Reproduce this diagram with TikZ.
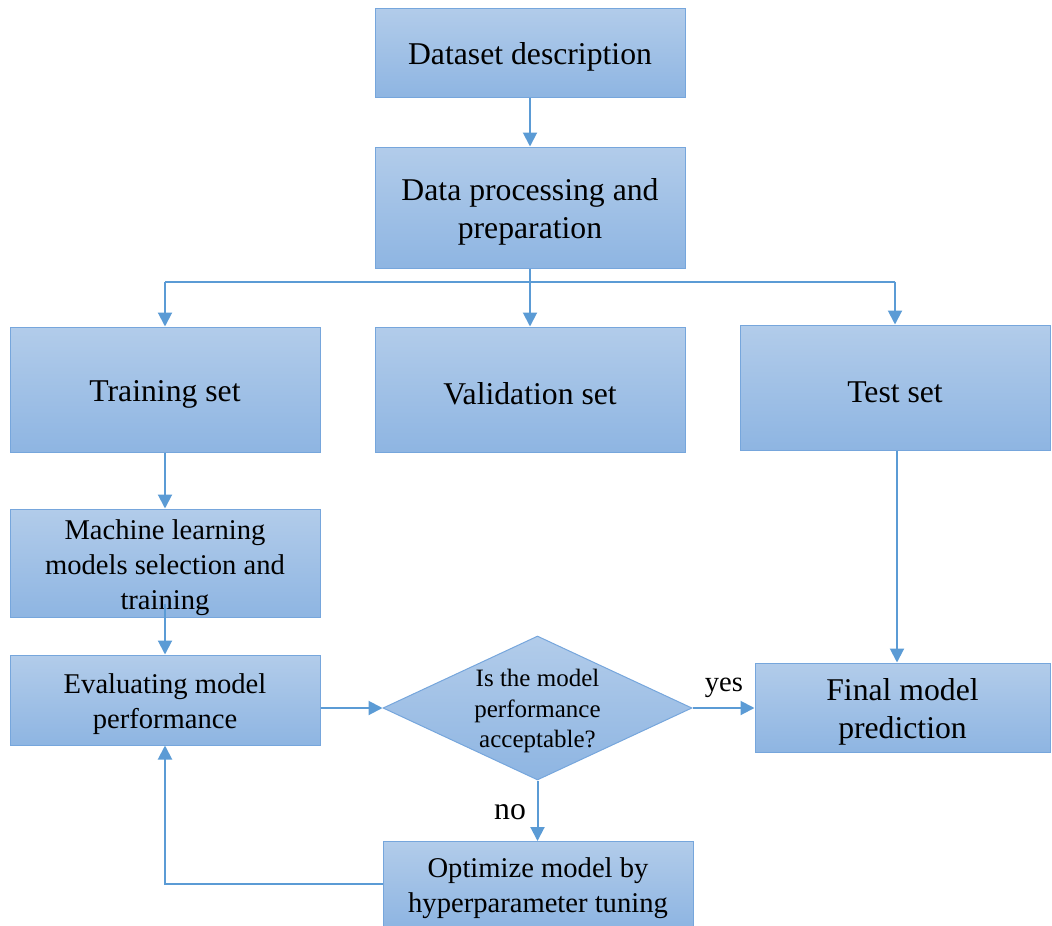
\documentclass[tikz,border=0pt]{standalone}
\usepackage{fontspec}
\setmainfont{Liberation Serif}
\usetikzlibrary{arrows.meta,shapes.geometric}
\definecolor{boxtop}{RGB}{178,204,234}
\definecolor{boxbot}{RGB}{142,181,226}
\definecolor{boxline}{RGB}{118,166,220}
\definecolor{flow}{RGB}{91,155,213}
\newcommand\fbig{\fontsize{31.7}{38}\selectfont}
\newcommand\fmid{\fontsize{28.6}{35}\selectfont}
\newcommand\fsml{\fontsize{25}{30.5}\selectfont}
\begin{document}
\begin{tikzpicture}[x=1pt,y=-1pt,
  blk/.style={draw=boxline, line width=1pt, top color=boxtop, bottom color=boxbot,
    inner sep=0pt, minimum width=310pt},
  decision/.style={diamond, draw=boxline, line width=1pt, top color=boxtop,
    bottom color=boxbot, inner sep=0pt, minimum width=309pt, minimum height=144pt},
  bigtext/.style={label={[font=\fbig, align=center, inner sep=0pt, yshift=-4.5pt]center:{#1}}},
  midtext/.style={label={[font=\fmid, align=center, inner sep=0pt, yshift=-4.5pt]center:{#1}}},
  smltext/.style={label={[font=\fsml, align=center, inner sep=0pt, yshift=-3pt]center:{#1}}},
  link/.style={draw=flow, line width=2pt, -{Triangle[length=14pt,width=14pt]}},
  plain/.style={draw=flow, line width=2pt},
  tag/.style={font=\fmid, inner sep=0pt}]
\useasboundingbox (0,0) rectangle (1052,926);

% boxes
\node[blk, minimum height=89pt,  bigtext={Dataset description}] (ds) at (530,52.5) {};
\node[blk, minimum height=121pt, bigtext={Data processing and\\preparation}] (dp) at (530,207.5) {};
\node[blk, minimum height=125pt, bigtext={Training set}] (tr) at (165,389.5) {};
\node[blk, minimum height=125pt, bigtext={Validation set}] (va) at (530,389.5) {};
\node[blk, minimum height=125pt, bigtext={Test set}] (te) at (895,387.5) {};
\node[blk, minimum height=108pt, midtext={Machine learning\\models selection and\\training}] (ml) at (165,563) {};
\node[blk, minimum height=90pt,  midtext={Evaluating model\\performance}] (ev) at (165,700) {};
\node[decision, smltext={Is the model\\performance\\acceptable?}] (q) at (537.5,708) {};
\node[blk, minimum height=89pt, minimum width=295pt, bigtext={Final model\\prediction}] (fi) at (902.5,707.5) {};
\node[blk, minimum height=85pt, midtext={Optimize model by\\hyperparameter tuning}] (op) at (538,884) {};

% connectors
\draw[link] (ds) -- (dp);
\coordinate (split) at ([yshift=-13pt]dp.south);
\draw[plain] (dp.south) -- (split);
\draw[plain] (split -| tr.north) -- (split -| te.north);
\draw[link] (split -| tr.north) -- (tr.north);
\draw[link] (split) -- (va.north);
\draw[link] (split -| te.north) -- (te.north);
\draw[link] (tr) -- (ml);
\draw[link] ([yshift=14pt]ml.south) -- (ev.north);
\draw[link] (ev.east |- q.west) -- (q.west);
\draw[link] (q.east) -- (fi.west |- q.east);
\draw[link] (te.south -| 897,0) -- (fi.north -| 897,0);
\draw[link] (q.south) -- (op.north -| q.south);
\draw[link] (op.west) -| (ev.south);

% branch labels
\node[tag] (yes) at (724,688) {yes};
\node[tag, font=\fbig] (no) at (510,812) {no};
\end{tikzpicture}
\end{document}
